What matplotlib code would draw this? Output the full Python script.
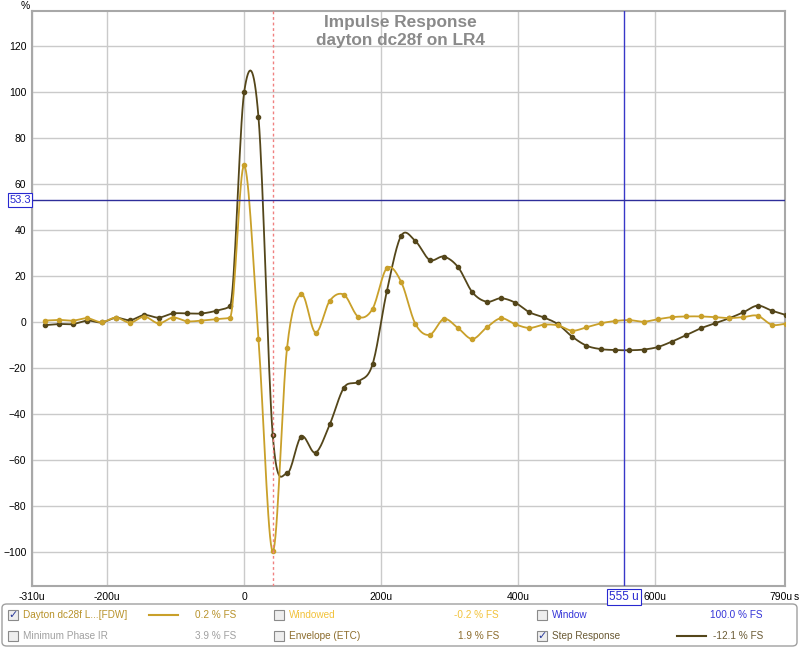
import numpy as np
import matplotlib.pyplot as plt
from matplotlib.patches import Rectangle, FancyBboxPatch
from matplotlib.transforms import ScaledTranslation

plt.rcParams['font.family'] = ['Liberation Sans', 'DejaVu Sans']

# samples at 48 kHz, first sample index -14
first_n = -14
sample_us = 1e6 / 48000

impulse = [0.8, 1.1, 0.8, 1.8, 0.1, 2.1, -0.1, 2.5, -0.4, 2.1, 0.5, 0.8, 1.4, 2.0,
           68.3, -7.3, -99.5, -11.3, 12.2, -4.4, 9.4, 12.0, 2.5, 5.9, 23.6, 17.7,
           -0.6, -5.4, 1.5, -2.5, -7.2, -2.2, 1.8, -0.8, -2.4, -1.0, -1.3, -3.6,
           -2.1, -0.4, 0.6, 1.0, 0.3, 1.4, 2.3, 2.6, 2.6, 2.3, 1.9, 2.3, 2.9, -1.0, -0.5]
step = [-1.2, -0.7, -0.7, 0.8, 0.0, 2.0, 1.0, 3.2, 2.1, 3.9, 3.9, 3.9, 5.0, 7.0,
        100.3, 89.3, -48.9, -65.6, -49.6, -56.6, -44.3, -28.3, -25.7, -18.2, 13.5,
        37.6, 35.4, 27.2, 28.6, 24.0, 13.1, 9.0, 10.5, 8.6, 4.4, 2.2, -0.8, -6.2,
        -10.1, -11.6, -12.0, -12.1, -11.8, -10.7, -8.3, -5.5, -2.6, -0.4, 1.8, 4.4,
        7.3, 5.1, 3.2]

x_ticks = [-310, -200, 0, 200, 400, 600, 790]
x_labels = ['-310u', '-200u', '0', '200u', '400u', '600u', '790u']
y_ticks = [-100, -80, -60, -40, -20, 0, 20, 40, 60, 80, 100, 120]

title_lines = ['Impulse Response', 'dayton dc28f on LR4']
cursor_x = 555
cursor_y = 53.3
ref_x = 2 * sample_us

gold = '#C9A02A'
dark = '#54461A'


def smooth(t, v, k=16):
    # cubic hermite through the samples (display only)
    v = np.asarray(v, float)
    d = np.diff(v)
    m = np.zeros_like(v)
    m[0], m[-1] = d[0], d[-1]
    for i in range(1, len(v) - 1):
        a, b = d[i - 1], d[i]
        m[i] = (a + b) / 2
        if a * b > 0 and max(abs(a), abs(b)) > 20 * min(abs(a), abs(b)):
            m[i] = 2 * a * b / (a + b)
    s = np.linspace(0, 1, k, endpoint=False)
    h00 = 2 * s ** 3 - 3 * s ** 2 + 1
    h10 = s ** 3 - 2 * s ** 2 + s
    h01 = -2 * s ** 3 + 3 * s ** 2
    h11 = s ** 3 - s ** 2
    xs, ys = [], []
    for i in range(len(v) - 1):
        xs.append(t[i] + s * (t[i + 1] - t[i]))
        ys.append(h00 * v[i] + h10 * m[i] + h01 * v[i + 1] + h11 * m[i + 1])
    xs.append([t[-1]])
    ys.append([v[-1]])
    return np.concatenate(xs), np.concatenate(ys)


t = (first_n + np.arange(len(impulse))) * sample_us

W, H = 800, 649
fig = plt.figure(figsize=(W / 100, H / 100), dpi=100)


def px(x, y):
    return x / W, 1 - y / H


ax = fig.add_axes([32 / W, 1 - 586 / H, 753 / W, 575 / H])
ax.set_xlim(-310, 790)
ax.set_ylim(-114.6, 135.4)
ax.set_xticks(x_ticks)
ax.set_xticklabels(x_labels)
ax.set_yticks(y_ticks)
ax.tick_params(length=0, labelsize=7.5, pad=4)
ax.grid(True, color='#CACACA', lw=1)
ax.set_axisbelow(True)
for sp in ax.spines.values():
    sp.set_color('#A8A8A8')
    sp.set_linewidth(1.5)
last = ax.get_xticklabels()[-1]
last.set_transform(last.get_transform() + ScaledTranslation(-4 / 100, 0, fig.dpi_scale_trans))

sx, sy = smooth(t, step)
ax.plot(sx, sy, color=dark, lw=1.3, zorder=3)
ax.plot(t, step, 'o', color=dark, ms=3, zorder=3)
ix, iy = smooth(t, impulse)
ax.plot(ix, iy, color=gold, lw=1.3, zorder=4)
ax.plot(t, impulse, 'o', color=gold, ms=3, zorder=4)

ax.axvline(ref_x, color='#F08080', lw=1, ls=(0, (2, 2)), zorder=5)
ax.axvline(cursor_x, color='#3838C8', lw=1, zorder=5)
ax.axhline(cursor_y, color='#2E2E9A', lw=1, zorder=5)

for ty, line in zip([22, 41], title_lines):
    fig.text(*px(400, ty), line, ha='center', va='center', fontsize=12.4,
             fontweight='bold', color='#8A8A8A')

# axis units and cursor readouts
fig.text(*px(25, 6), '%', fontsize=7.5, ha='center', va='center')
fig.text(*px(796, 597), 's', fontsize=7.5, ha='center', va='center')
fig.text(*px(20, 200), f'{cursor_y}', fontsize=8, color='#2828D0', ha='center', va='center',
         bbox=dict(boxstyle='square,pad=0.15', fc='white', ec='#2828D0', lw=0.8))
fig.text(*px(624, 597), f'{cursor_x} u', fontsize=8.5, color='#2828D0', ha='center', va='center',
         bbox=dict(boxstyle='square,pad=0.15', fc='white', ec='#2828D0', lw=0.8))

# legend panel
fig.patches.append(FancyBboxPatch(px(2, 646), 795 / W, 42 / H, boxstyle='round,pad=0,rounding_size=0.006',
                                  transform=fig.transFigure, fc='white', ec='#A0A0A0', lw=1))

rows = [
    [(8, True, 'Dayton dc28f L...[FDW]', '#B8922A', '0.2 % FS', 236, gold),
     (274, False, 'Windowed', '#F2C23A', '-0.2 % FS', 499, None),
     (537, False, 'Window', '#3434D8', '100.0 % FS', 763, None)],
    [(8, False, 'Minimum Phase IR', '#A0A0A0', '3.9 % FS', 236, None),
     (274, False, 'Envelope (ETC)', '#8C6C2C', '1.9 % FS', 499, None),
     (537, True, 'Step Response', '#6A5A34', '-12.1 % FS', 763, dark)],
]
row_y = [615, 636]
for ry, row in zip(row_y, rows):
    for cx, checked, name, col, val, vx, key in row:
        fig.patches.append(Rectangle(px(cx, ry + 5), 10 / W, 10 / H, transform=fig.transFigure,
                                     fc='#EEEEEE', ec='#8A8A8A', lw=0.8))
        if checked:
            fig.text(*px(cx + 5, ry), '\u2713', fontsize=8, color='#2A3A9A', ha='center',
                     va='center', family='DejaVu Sans', fontweight='bold')
        fig.text(*px(cx + 15, ry), name, fontsize=7.2, color=col, ha='left', va='center')
        fig.text(*px(vx, ry), val, fontsize=7.2, color=col, ha='right', va='center')
        if key is not None:
            kx = 149 if cx < 100 else 677
            fig.lines.append(plt.Line2D([kx / W, (kx + 29) / W], [1 - ry / H] * 2,
                                        transform=fig.transFigure, color=key, lw=1.5))

fig.savefig('out.png', dpi=100)
